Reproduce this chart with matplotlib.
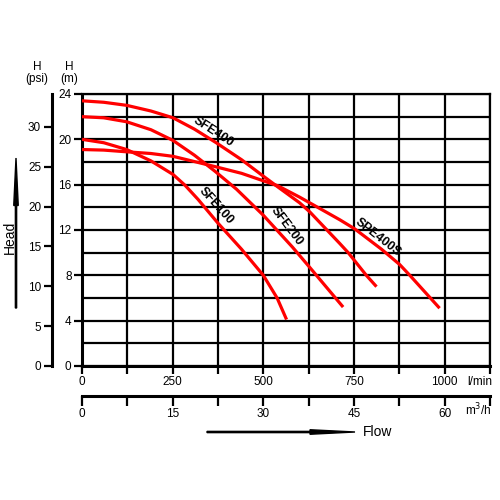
import matplotlib
matplotlib.use('Agg')
import matplotlib.pyplot as plt
from matplotlib.patches import FancyArrow

plt.rcParams['font.family'] = ['Liberation Sans Narrow', 'Liberation Sans', 'DejaVu Sans']

# pump curves: flow in l/min, head in m
q_sfe100 = [0, 60, 123, 190, 251, 284, 320, 375, 440, 500, 538, 564]
h_sfe100 = [20.0, 19.7, 19.1, 18.1, 16.9, 15.95, 14.7, 12.6, 10.3, 8.0, 6.0, 4.1]

q_sfe200 = [0, 60, 123, 190, 251, 310, 366, 426, 500, 580, 628, 720]
h_sfe200 = [22.0, 21.9, 21.55, 20.85, 19.9, 18.6, 17.2, 15.6, 13.3, 10.5, 8.7, 5.2]

q_sfe400 = [0, 60, 123, 190, 251, 310, 370, 440, 500, 540, 600, 628, 711, 734, 784, 812]
h_sfe400 = [23.4, 23.27, 23.0, 22.5, 21.9, 20.9, 19.7, 18.2, 16.75, 15.8, 14.4, 13.6, 10.8, 10.0, 8.0, 7.0]

q_spe400s = [0, 60, 123, 190, 251, 366, 440, 540, 600, 711, 752, 826, 876, 904, 986]
h_spe400s = [19.1, 19.05, 18.9, 18.75, 18.5, 17.6, 17.0, 15.9, 14.9, 12.9, 12.1, 10.3, 8.95, 8.0, 5.1]

curve_names = ['SFE100', 'SFE200', 'SFE400', 'SPE400S']
# label anchor (l/min, m) and angle for each curve name
label_q = [369, 563, 361, 816]
label_h = [14.1, 12.3, 20.7, 11.3]
label_rot = [-48, -53, -33, -38]

lpm_ticks = [0, 125, 250, 375, 500, 625, 750, 875, 1000, 1125]
lpm_labels = ['0', '', '250', '', '500', '', '750', '', '1000', '']
m3h_ticks = [0, 7.5, 15, 22.5, 30, 37.5, 45, 52.5, 60, 67.5]
m3h_labels = ['0', '', '15', '', '30', '', '45', '', '60', '']
m_ticks = [0, 4, 8, 12, 16, 20, 24]
m_minor = [2, 6, 10, 14, 18, 22]
psi_ticks = [0, 5, 10, 15, 20, 25, 30]

fig = plt.figure(figsize=(5, 5), dpi=100)
ax = fig.add_axes([82 / 500, 1 - 366 / 500, 408 / 500, 272 / 500])
ax.set_xlim(0, 1125)
ax.set_ylim(0, 24)

ax.set_xticks(lpm_ticks)
ax.set_xticklabels(lpm_labels)
ax.set_yticks(m_ticks)
ax.set_yticks(m_minor, minor=True)
ax.tick_params(axis='y', which='minor', length=0)
ax.tick_params(axis='both', which='major', direction='out', length=6, width=1.6,
               labelsize=8.5, pad=1.5)
ax.grid(True, which='both', color='black', lw=1.6)
ax.set_axisbelow(True)
for s in ax.spines.values():
    s.set_linewidth(1.6)
ax.spines['left'].set_linewidth(2.2)
ax.spines['bottom'].set_linewidth(2.2)

for q, h in [(q_sfe100, h_sfe100), (q_sfe200, h_sfe200),
             (q_sfe400, h_sfe400), (q_spe400s, h_spe400s)]:
    ax.plot(q, h, color='#ff0000', lw=2.3, solid_capstyle='butt',
            solid_joinstyle='round', zorder=3)

for name, lq, lh, rot in zip(curve_names, label_q, label_h, label_rot):
    ax.text(lq, lh, name, rotation=rot, rotation_mode='anchor', ha='center', va='center',
            fontsize=9, fontweight='bold', zorder=4)

# second flow scale in m3/h below the l/min scale
secx = ax.secondary_xaxis(-0.11, functions=(lambda q: q * 0.06, lambda m: m / 0.06))
secx.set_xticks(m3h_ticks)
secx.set_xticklabels(m3h_labels)
secx.tick_params(direction='out', length=7, width=1.6, labelsize=8.5, pad=1.5)
secx.spines['bottom'].set_linewidth(2.2)

# head scale in psi left of the metre scale
secy = ax.secondary_yaxis(-(82 - 51.5) / 408, functions=(lambda m: m / 0.70307, lambda p: p * 0.70307))
secy.set_yticks(psi_ticks)
secy.tick_params(direction='out', length=6, width=1.6, labelsize=8.5, pad=1.5)
secy.spines['left'].set_linewidth(2.2)

fig.text(480 / 500, 1 - 382 / 500, 'l/min', ha='center', va='center', fontsize=8.5)
fig.text(478 / 500, 1 - 410 / 500, 'm$^3$/h', ha='center', va='center', fontsize=8.5)
fig.text(37 / 500, 1 - 73 / 500, 'H\n(psi)', ha='center', va='center', fontsize=8.5,
         linespacing=1.1)
fig.text(69 / 500, 1 - 73 / 500, 'H\n(m)', ha='center', va='center', fontsize=8.5,
         linespacing=1.1)
fig.text(363 / 500, 1 - 432 / 500, 'Flow', ha='left', va='center', fontsize=10)
fig.text(10 / 500, 1 - 237 / 500, 'Head', ha='center', va='center', fontsize=10,
         rotation=90)

fig.patches.append(FancyArrow(207 / 500, 1 - 432 / 500, 148 / 500, 0, width=0.0025,
                              head_width=0.009, head_length=0.09, length_includes_head=True,
                              color='black', transform=fig.transFigure, figure=fig))
fig.patches.append(FancyArrow(16 / 500, 1 - 308 / 500, 0, 150 / 500, width=0.0025,
                              head_width=0.009, head_length=0.095, length_includes_head=True,
                              color='black', transform=fig.transFigure, figure=fig))

fig.savefig('out.png', dpi=100, facecolor='white')
